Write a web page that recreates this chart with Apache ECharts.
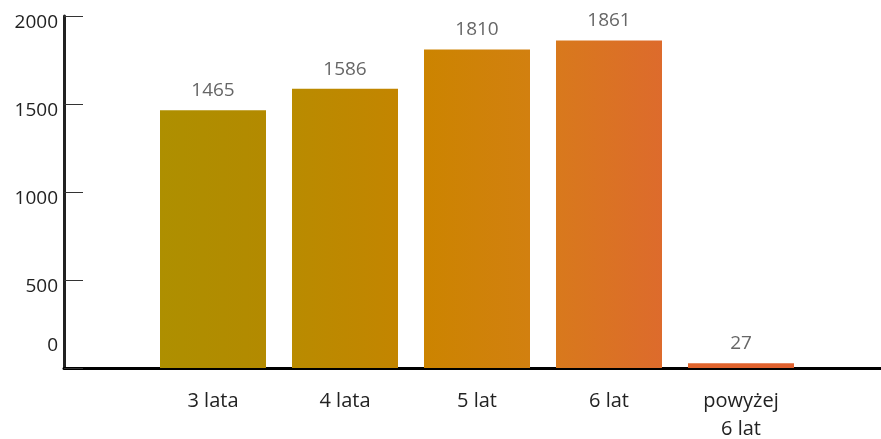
<!DOCTYPE html>
<html>
<head>
<meta charset="utf-8">
<script src="https://cdn.jsdelivr.net/npm/echarts@6/dist/echarts.min.js"></script>
<style>
  html, body { margin: 0; padding: 0; background: #fff; }
  #chart { width: 881px; height: 439px; }
</style>
</head>
<body>
<div id="chart"></div>
<script>
// data
const categories = ['3 lata', '4 lata', '5 lat', '6 lat', 'powyżej\n6 lat']
const counts = [1465, 1586, 1810, 1861, 27]
const yTicks = [0, 500, 1000, 1500, 2000]

// left / right colour of each bar (the fill shifts from olive gold to orange)
const leftColors = ['#ae8f00', '#b98b00', '#cc8400', '#d8791c', '#df642c']
const rightColors = ['#b38a00', '#c38500', '#d28010', '#dd6b2c', '#e0602e']

const font = "'Open Sans', 'Noto Sans', sans-serif"
const chart = echarts.init(document.getElementById('chart'))

chart.setOption({
  animation: false,
  textStyle: { fontFamily: font },
  grid: [
    { left: 64, right: 0, top: 16, bottom: 71, outerBoundsMode: 'none' },
    { left: 147, right: 74, top: 16, bottom: 71, outerBoundsMode: 'none' }
  ],
  xAxis: [
    {
      // only the long base line
      gridIndex: 0,
      type: 'value',
      min: 0,
      max: 1,
      axisLine: { show: true, lineStyle: { color: '#000', width: 3 } },
      axisTick: { show: false },
      axisLabel: { show: false },
      splitLine: { show: false }
    },
    {
      gridIndex: 1,
      type: 'category',
      data: categories,
      axisLine: { show: false },
      axisTick: { show: false },
      axisLabel: {
        color: '#222',
        fontSize: 20,
        fontFamily: font,
        margin: 19,
        lineHeight: 28
      }
    }
  ],
  yAxis: [
    {
      gridIndex: 0,
      type: 'value',
      min: yTicks[0],
      max: yTicks[yTicks.length - 1],
      interval: 500,
      axisLine: { show: true, lineStyle: { color: '#222', width: 3 } },
      axisTick: { show: true, inside: true, length: 19, lineStyle: { color: '#333', width: 1 } },
      splitLine: { show: false },
      axisLabel: {
        margin: 6,
        verticalAlign: 'middle',
        formatter: v => v === 0 ? '{z|0}' : '{n|' + v + '}',
        rich: {
          n: { color: '#222', fontSize: 19, fontFamily: font, padding: [14, 0, 0, 0] },
          z: { color: '#222', fontSize: 19, fontFamily: font, padding: [0, 0, 44, 0] }
        }
      }
    },
    {
      gridIndex: 1,
      type: 'value',
      min: 0,
      max: 2000,
      show: false
    }
  ],
  series: [{
    type: 'bar',
    xAxisIndex: 1,
    yAxisIndex: 1,
    barWidth: 106,
    data: counts.map((c, i) => ({
      value: c,
      itemStyle: {
        color: new echarts.graphic.LinearGradient(0, 0, 1, 0, [
          { offset: 0, color: leftColors[i] },
          { offset: 1, color: rightColors[i] }
        ])
      }
    })),
    label: {
      show: true,
      position: 'top',
      distance: 10,
      color: '#666',
      fontSize: 19,
      fontFamily: font
    }
  }]
})
</script>
</body>
</html>
